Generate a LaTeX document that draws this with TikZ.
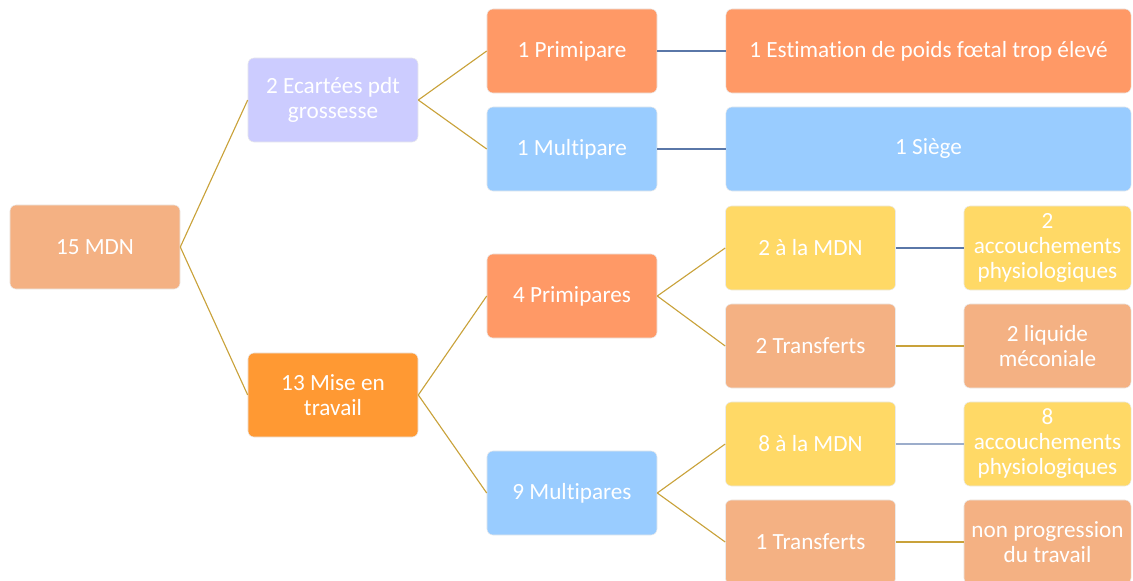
\documentclass[tikz,border=0pt]{standalone}
\usepackage{fontspec}
\setmainfont{Carlito}[Ligatures=NoCommon]
\usepackage{tikz}
\usetikzlibrary{positioning}
\usepackage{xcolor}
\definecolor{saumon}{HTML}{F4B183}
\definecolor{lavande}{HTML}{CCCCFF}
\definecolor{orangevif}{HTML}{FF9933}
\definecolor{corail}{HTML}{FF9966}
\definecolor{bleuclair}{HTML}{99CCFF}
\definecolor{jaune}{HTML}{FFD966}
\definecolor{lienor}{HTML}{C9A23A}
\definecolor{lienbleu}{HTML}{5A77A8}

\begin{document}
\begin{tikzpicture}[x=0.025cm, y=-0.025cm,
  box/.style={draw=black!8, rectangle, rounded corners=0.15cm, minimum width=4.25cm, minimum height=2.1cm,
    text=white, align=center, font=\fontsize{16.5}{17.8}\selectfont, inner sep=2pt},
  wide/.style={box, minimum width=10.125cm},
  leaf/.style={box, minimum width=4.175cm},
  link/.style={lienor, line width=0.8pt},
  bluelink/.style={lienbleu, line width=0.8pt}
]
\clip (0,0) rectangle (1133,580);
% niveau 1 et 2
\node[box, fill=saumon] (mdn) at (95,247) {15 MDN};
\node[box, fill=lavande] (ecart) at (333,100) {2 Ecartées pdt\\grossesse};
\node[box, fill=orangevif] (travail) at (333,395) {13 Mise en\\travail};
% branche grossesse
\node[box, fill=corail] (prim1) at (572,51) {1 Primipare};
\node[box, fill=bleuclair] (mult1) at (572,149) {1 Multipare};
\node[wide, fill=corail] (poids) at (928.5,51) {1 Estimation de poids fœtal trop élevé};
\node[wide, fill=bleuclair] (siege) at (928.5,149) {1 Siège};
% branche travail
\node[box, fill=corail] (prim4) at (572,296) {4 Primipares};
\node[box, fill=bleuclair] (mult9) at (572,493) {9 Multipares};
\node[box, fill=jaune] (mdn2) at (810.5,248) {2 à la MDN};
\node[box, fill=saumon] (transf2) at (810.5,346) {2 Transferts};
\node[box, fill=jaune] (mdn8) at (810.5,444) {8 à la MDN};
\node[box, fill=saumon] (transf1) at (810.5,542) {1 Transferts};
\node[leaf, fill=jaune] (physio2) at (1047.5,248) {2\\accouchements\\physiologiques};
\node[leaf, fill=saumon] (meco) at (1047.5,346) {2 liquide\\méconiale};
\node[leaf, fill=jaune] (physio8) at (1047.5,444) {8\\accouchements\\physiologiques};
\node[leaf, fill=saumon] (nonprog) at (1047.5,542) {non progression\\du travail};
% liens
\draw[link] (mdn.east) -- (ecart.west);
\draw[link] (mdn.east) -- (travail.west);
\draw[link] (ecart.east) -- (prim1.west);
\draw[link] (ecart.east) -- (mult1.west);
\draw[link] (travail.east) -- (prim4.west);
\draw[link] (travail.east) -- (mult9.west);
\draw[link] (prim4.east) -- (mdn2.west);
\draw[link] (prim4.east) -- (transf2.west);
\draw[link] (mult9.east) -- (mdn8.west);
\draw[link] (mult9.east) -- (transf1.west);
\draw[bluelink] (prim1) -- (poids);
\draw[bluelink] (mult1) -- (siege);
\draw[bluelink] (mdn2) -- (physio2);
\draw[bluelink, draw=lienbleu!60] (mdn8) -- (physio8);
\draw[link] (transf2) -- (meco);
\draw[link] (transf1) -- (nonprog);
\end{tikzpicture}
\end{document}
